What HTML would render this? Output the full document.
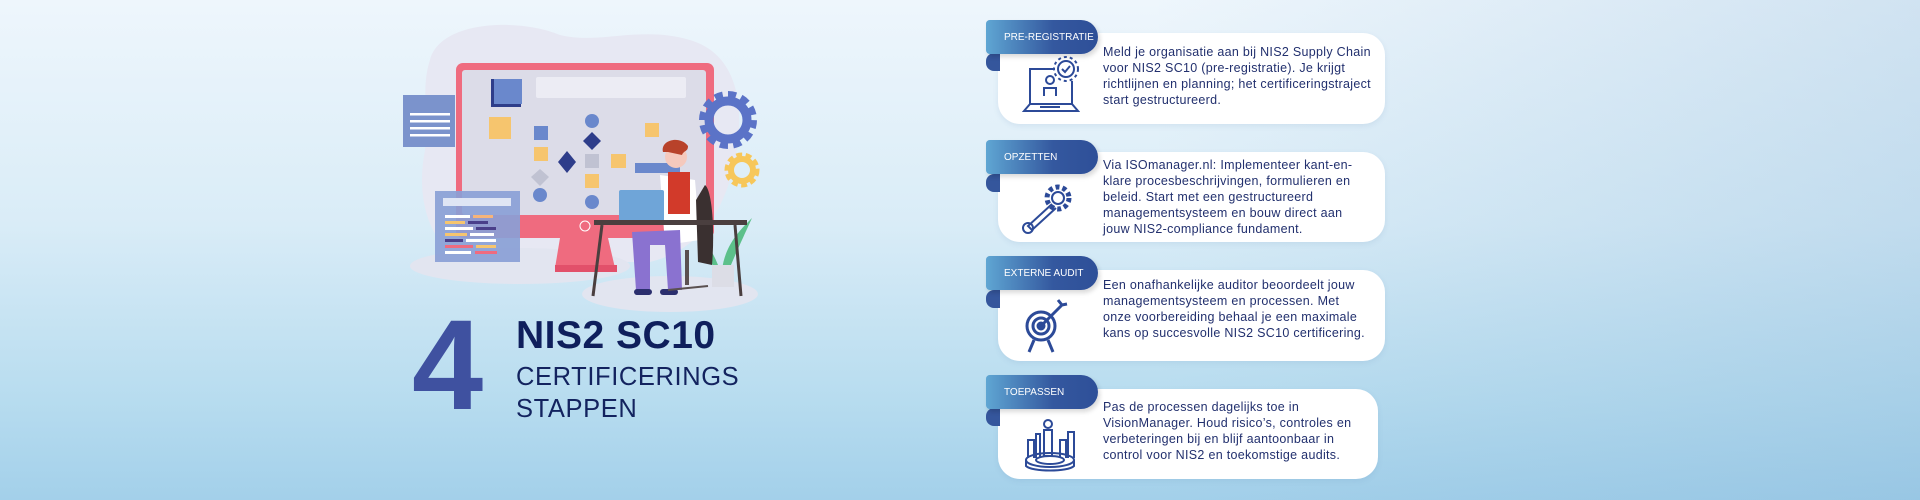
<!DOCTYPE html>
<html><head><meta charset="utf-8"><style>
*{margin:0;padding:0;box-sizing:border-box}
body{width:1920px;height:500px;overflow:hidden;position:relative;font-family:"Liberation Sans",sans-serif;
background:linear-gradient(180deg,#eef6fc 0%,#d9ecf7 45%,#b7dcef 80%,#a3d0ea 100%);}
.bg2{position:absolute;inset:0;background:linear-gradient(90deg,rgba(255,255,255,0) 60%,rgba(120,170,210,.25) 100%)}
.card{position:absolute;left:998px;width:387px;background:#fff;border-radius:22px;box-shadow:0 2px 6px rgba(80,120,170,.12)}
.tab{position:absolute;left:986px;width:112px;height:34px;border-radius:4px 18px 18px 4px;white-space:nowrap;
background:linear-gradient(90deg,#5fa6d3,#34589f 60%,#2e4f98);color:#fff;font-size:10px;padding:12px 0 0 18px;box-shadow:2px 3px 5px rgba(0,0,0,.15);z-index:2}
.fold{position:absolute;left:986px;width:14px;height:18px;background:#35569c;border-radius:8px 0 0 8px;z-index:1}
.txt{position:absolute;left:1103px;font-size:12.5px;line-height:16px;color:#22306e;white-space:nowrap;letter-spacing:.3px}
.ic{position:absolute;z-index:3}
</style></head><body>
<div class="bg2"></div>

<svg style="position:absolute;left:0;top:0" width="800" height="320" viewBox="0 0 800 320">
<path d="M430,60 C440,20 520,18 560,35 C600,45 640,25 690,40 C740,55 745,110 735,160 C725,210 700,250 650,262 L470,262 C430,250 415,200 425,150 C430,120 420,90 430,60Z" fill="#e7e8f3"/>
<ellipse cx="520" cy="266" rx="110" ry="18" fill="#e2e5f0"/>
<ellipse cx="670" cy="294" rx="88" ry="18" fill="#e2e5f0"/>
<rect x="456" y="63" width="258" height="175" rx="7" fill="#ef6b7f"/>
<rect x="462" y="70" width="244" height="145" rx="3" fill="#dcdce8"/>
<polygon points="560,238 608,238 615,268 555,268" fill="#ef6b7f"/>
<rect x="555" y="265" width="62" height="7" fill="#e2506a"/>
<circle cx="585" cy="226" r="5" fill="none" stroke="#fff" stroke-width="1"/>
<rect x="536" y="77" width="150" height="21" rx="2" fill="#ececf4"/>
<rect x="491" y="79" width="30" height="28" fill="#2e3d8a"/><rect x="494" y="79" width="28" height="25" fill="#6a88cc"/>
<rect x="489" y="117" width="22" height="22" fill="#f6c56e"/>
<rect x="534" y="126" width="14" height="14" fill="#6a88cc"/>
<rect x="534" y="147" width="14" height="14" fill="#f6c56e"/>
<polygon points="567,151 576,162 567,173 558,162" fill="#2e3d8a"/>
<polygon points="540,169 549,177 540,186 531,177" fill="#c0c2d2"/>
<circle cx="540" cy="195" r="7" fill="#6a88cc"/>
<circle cx="592" cy="121" r="7" fill="#6a88cc"/>
<polygon points="592,132 601,141 592,150 583,141" fill="#2e3d8a"/>
<rect x="585" y="154" width="14" height="14" fill="#c0c2d2"/>
<rect x="585" y="174" width="14" height="14" fill="#f6c56e"/>
<circle cx="592" cy="202" r="7" fill="#6a88cc"/>
<rect x="611" y="154" width="15" height="14" fill="#f6c56e"/>
<rect x="645" y="123" width="14" height="14" fill="#f6c56e"/>
<rect x="635" y="163" width="45" height="10" fill="#6a88cc"/>
<rect x="403" y="95" width="52" height="52" fill="#7b93cc"/>
<g fill="#fff"><rect x="410" y="113" width="40" height="2.5"/><rect x="410" y="120" width="40" height="2.5"/><rect x="410" y="127" width="40" height="2.5"/><rect x="410" y="134" width="40" height="2.5"/></g>
<rect x="435" y="191" width="85" height="71" fill="#8aa0d6" opacity=".92"/>
<rect x="443" y="198" width="68" height="8" fill="#dfe5f4"/>
<g><rect x="445" y="215" width="25" height="3" fill="#fff"/><rect x="473" y="215" width="20" height="3" fill="#f6b47a"/><rect x="445" y="221" width="20" height="3" fill="#f6c56e"/><rect x="468" y="221" width="20" height="3" fill="#4a3f8a"/><rect x="445" y="227" width="28" height="3" fill="#fff"/><rect x="476" y="227" width="20" height="3" fill="#4a3f8a"/><rect x="445" y="233" width="22" height="3" fill="#f6c56e"/><rect x="470" y="233" width="24" height="3" fill="#fff"/><rect x="445" y="239" width="18" height="3" fill="#4a3f8a"/><rect x="466" y="239" width="30" height="3" fill="#fff"/><rect x="445" y="245" width="28" height="3" fill="#ef6b7f"/><rect x="476" y="245" width="20" height="3" fill="#f6c56e"/><rect x="445" y="251" width="26" height="3" fill="#fff"/><rect x="475" y="251" width="22" height="3" fill="#ef6b7f"/></g>
<circle cx="728" cy="120" r="22" fill="none" stroke="#5b73c7" stroke-width="14" stroke-dasharray="7 4.5"/>
<circle cx="728" cy="120" r="19" fill="none" stroke="#5b73c7" stroke-width="9"/>
<circle cx="742" cy="170" r="13" fill="none" stroke="#f7c75a" stroke-width="9" stroke-dasharray="5 3"/>
<circle cx="742" cy="170" r="11" fill="none" stroke="#f7c75a" stroke-width="6"/>
<path d="M722,270 C725,245 740,230 752,218 C742,240 735,255 728,272Z" fill="#5cc08a"/>
<path d="M718,265 C712,250 705,240 695,232 C705,250 710,260 715,270Z" fill="#5cc08a"/>
<rect x="712" y="265" width="22" height="22" fill="#dcdde6"/>
<path d="M660,175 L695,180 L700,240 L665,245Z" fill="#fff"/>
<path d="M705,185 C712,190 715,230 712,265 L698,262 L696,200Z" fill="#3a3030"/>
<rect x="668" y="172" width="22" height="42" fill="#d23a2a"/>
<circle cx="676" cy="157" r="11" fill="#f5c9bd"/>
<path d="M663,152 C660,140 680,135 688,146 C688,152 684,150 682,155 L668,152Z" fill="#b8422a"/>
<rect x="619" y="190" width="45" height="32" rx="2" fill="#6fa5d8"/>
<rect x="594" y="220" width="153" height="5" fill="#4a3f3f"/>
<line x1="602" y1="225" x2="593" y2="296" stroke="#4a3f3f" stroke-width="3"/>
<line x1="735" y1="225" x2="741" y2="296" stroke="#4a3f3f" stroke-width="3"/>
<path d="M632,232 L680,230 L682,290 L668,290 L665,245 L650,245 L650,290 L636,290Z" fill="#8a72d0"/>
<rect x="634" y="289" width="18" height="6" rx="3" fill="#2b2f6e"/><rect x="660" y="289" width="18" height="6" rx="3" fill="#2b2f6e"/>
<line x1="687" y1="250" x2="687" y2="285" stroke="#5a5050" stroke-width="4"/>
<line x1="668" y1="290" x2="708" y2="286" stroke="#5a5050" stroke-width="2"/>
</svg>

<div style="position:absolute;left:412px;top:302px;font-size:128px;font-weight:bold;color:#3f51a0;line-height:128px">4</div>
<div style="position:absolute;left:516px;top:314px;font-size:39px;font-weight:bold;color:#0f1f5c;letter-spacing:.5px">NIS2 SC10</div>
<div style="position:absolute;left:516px;top:361px;font-size:25.5px;color:#13235f;letter-spacing:.6px;line-height:32px">CERTIFICERINGS<br>STAPPEN</div>

<div class="card" style="top:33px;height:91px"></div>
<div class="fold" style="top:53px"></div>
<div class="tab" style="top:20px">PRE-REGISTRATIE</div>
<div class="txt" style="top:44px">Meld je organisatie aan bij NIS2 Supply Chain<br>voor NIS2 SC10 (pre-registratie). Je krijgt<br>richtlijnen en planning; het certificeringstraject<br>start gestructureerd.</div>
<svg class="ic" style="left:1020px;top:56px" width="60" height="58" viewBox="0 0 60 58" fill="none" stroke="#2c4a98" stroke-width="2">
<circle cx="46" cy="13" r="8"/><circle cx="46" cy="13" r="12" stroke-dasharray="3 3"/><path d="M42,13 l3,3 l5,-6"/>
<path d="M34,13 H10 V48 M52,25 V48"/><path d="M4,55 L10,48 H52 L58,55Z"/><circle cx="30" cy="24" r="4"/><path d="M24,40 V32 H36 V40"/><line x1="20" y1="51" x2="40" y2="51"/></svg>

<div class="card" style="top:152px;height:90px"></div>
<div class="fold" style="top:174px"></div>
<div class="tab" style="top:140px">OPZETTEN</div>
<div class="txt" style="top:157px">Via ISOmanager.nl: Implementeer kant-en-<br>klare procesbeschrijvingen, formulieren en<br>beleid. Start met een gestructureerd<br>managementsysteem en bouw direct aan<br>jouw NIS2-compliance fundament.</div>
<svg class="ic" style="left:1020px;top:180px" width="60" height="56" viewBox="0 0 60 56" fill="none" stroke="#2c4a98" stroke-width="2">
<circle cx="38" cy="18" r="11" stroke-dasharray="4 3" stroke-width="5"/><circle cx="38" cy="18" r="6"/><path d="M32,24 L8,46 L12,50 L36,28"/><circle cx="8" cy="48" r="5"/></svg>

<div class="card" style="top:270px;height:91px"></div>
<div class="fold" style="top:290px"></div>
<div class="tab" style="top:256px">EXTERNE AUDIT</div>
<div class="txt" style="top:277px">Een onafhankelijke auditor beoordeelt jouw<br>managementsysteem en processen. Met<br>onze voorbereiding behaal je een maximale<br>kans op succesvolle NIS2 SC10 certificering.</div>
<svg class="ic" style="left:1022px;top:296px" width="50" height="58" viewBox="0 0 50 58" fill="none" stroke="#2c4a98" stroke-width="3">
<circle cx="19" cy="30" r="14"/><circle cx="19" cy="30" r="8"/><circle cx="19" cy="30" r="3" fill="#2c4a98"/><path d="M19,30 L40,9 M36,4 L40,9 L45,8"/><path d="M12,44 L7,56 M26,44 L31,56"/></svg>

<div class="card" style="top:389px;height:90px;width:380px"></div>
<div class="fold" style="top:408px"></div>
<div class="tab" style="top:375px">TOEPASSEN</div>
<div class="txt" style="top:399px">Pas de processen dagelijks toe in<br>VisionManager. Houd risico’s, controles en<br>verbeteringen bij en blijf aantoonbaar in<br>control voor NIS2 en toekomstige audits.</div>
<svg class="ic" style="left:1022px;top:418px" width="56" height="56" viewBox="0 0 56 56" fill="none" stroke="#2c4a98" stroke-width="2">
<path d="M6,40 V22 H12 V40 M14,40 V16 H18 V40 M38,40 V22 H44 V40 M46,40 V14 H52 V40"/><circle cx="26" cy="6" r="4"/><path d="M22,12 H30 V38 H22Z"/><ellipse cx="28" cy="42" rx="24" ry="7"/><ellipse cx="28" cy="42" rx="14" ry="4"/><path d="M4,42 V48 C10,54 46,54 52,48 V42"/></svg>
</body></html>
